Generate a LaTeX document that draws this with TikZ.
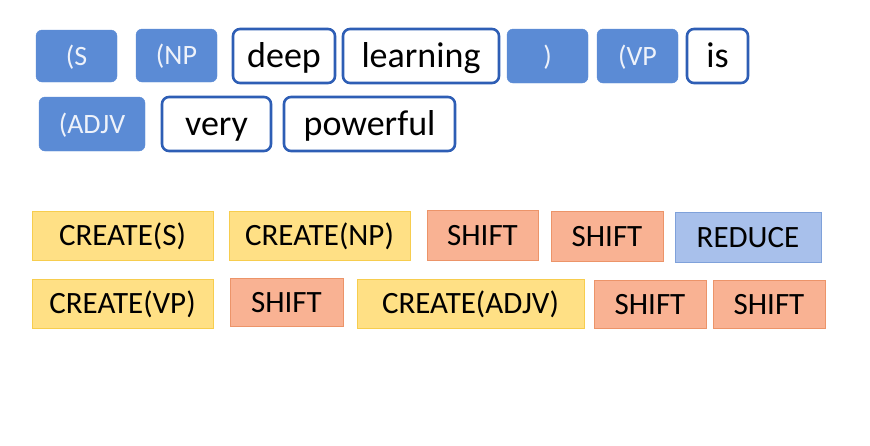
\documentclass[tikz,border=0pt]{standalone}
\usepackage{fontspec}
\setmainfont{Carlito}
\definecolor{tokfill}{HTML}{5B8BD5}
\definecolor{tokline}{HTML}{2E5EB5}
\definecolor{tokwhite}{HTML}{EEF2FA}
\definecolor{yfill}{HTML}{FFE085}
\definecolor{yline}{HTML}{F7CD4E}
\definecolor{ofill}{HTML}{F9B293}
\definecolor{oline}{HTML}{EC9469}
\definecolor{bfill}{HTML}{A8C0EB}
\definecolor{bline}{HTML}{7FA1DA}
\begin{document}
\begin{tikzpicture}[x=1pt,y=-1pt,
  lbl/.style={inner sep=0pt,text depth=0pt},
  nt/.style={fill=tokfill,draw=tokfill,rounded corners=6pt,text=tokwhite,font=\fontsize{28}{28}\selectfont,text height=18pt},
  wd/.style={fill=white,draw=tokline,line width=2.6pt,rounded corners=7pt,text=black,font=\fontsize{36}{36}\selectfont,text height=23pt},
  cr/.style={fill=yfill,draw=yline,line width=1pt,font=\fontsize{31}{31}\selectfont,text height=20pt},
  sh/.style={fill=ofill,draw=oline,line width=1pt,font=\fontsize{31}{31}\selectfont,text height=20pt},
  rd/.style={fill=bfill,draw=bline,line width=1pt,font=\fontsize{31}{31}\selectfont,text height=20pt}]
\useasboundingbox (0,0) rectangle (870,445);
\newcommand{\bx}[6]{\draw[#1] (#2,#3) rectangle (#4,#5) node[midway,lbl] {#6};}
% top row
\bx{nt}{36}{30}{117}{82}{(S}
\bx{nt}{136}{29}{217}{82}{(NP}
\bx{wd}{233}{29}{335}{83}{deep}
\bx{wd}{343}{29}{499}{83}{learning}
\bx{nt}{507}{29}{588}{83}{)}
\bx{nt}{597}{29}{678}{83}{(VP}
\bx{wd}{687}{29}{748}{83}{is}
% second row
\bx{nt}{39}{97}{145}{151}{(ADJV}
\bx{wd}{162}{97}{271}{151}{very}
\bx{wd}{284}{97}{455}{151}{powerful}
% actions row 1
\bx{cr}{32}{211}{213}{260}{CREATE(S)}
\bx{cr}{229}{211}{410}{260}{CREATE(NP)}
\bx{sh}{427}{210}{538}{260}{SHIFT}
\bx{sh}{551}{211}{663}{261}{SHIFT}
\bx{rd}{675}{212}{821}{262}{REDUCE}
% actions row 2
\bx{cr}{32}{279}{213}{328}{CREATE(VP)}
\bx{sh}{230}{278}{343}{326}{SHIFT}
\bx{cr}{357}{279}{584}{328}{CREATE(ADJV)}
\bx{sh}{594}{280}{706}{328}{SHIFT}
\bx{sh}{713}{280}{825}{328}{SHIFT}
\end{tikzpicture}
\end{document}
